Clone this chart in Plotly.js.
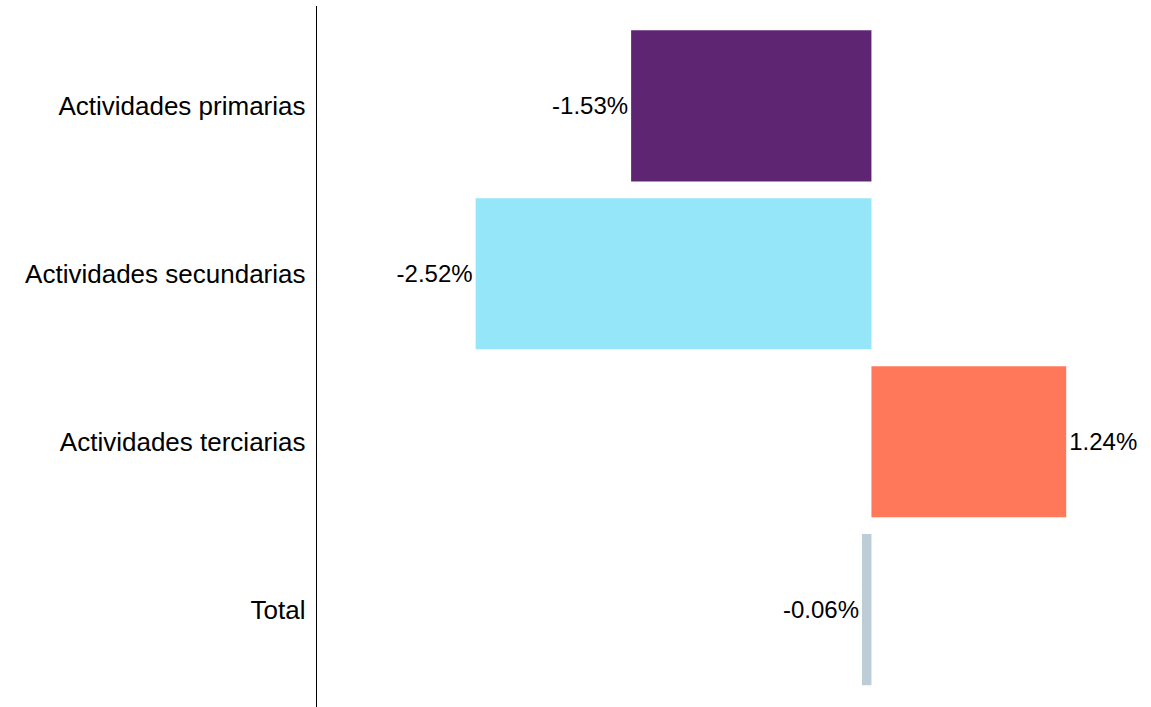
<!DOCTYPE html>
<html>
<head>
<meta charset="utf-8">
<script src="https://cdn.plot.ly/plotly-3.0.1.min.js"></script>
<style>html,body{margin:0;padding:0;background:#fff;}#chart{width:1151px;height:707px;}</style>
</head>
<body>
<div id="chart"></div>
<script>
const categories = ["Actividades primarias", "Actividades secundarias", "Actividades terciarias", "Total"];
const values = [-1.53, -2.52, 1.24, -0.06];
const labels = ["-1.53%", "-2.52%", "1.24%", "-0.06%"];
const colors = ["#5E2572", "#95E6F8", "#FF785A", "#BDCDD6"];

const trace = {
  type: "bar",
  orientation: "h",
  y: categories,
  x: values,
  text: labels,
  textposition: "outside",
  cliponaxis: false,
  textfont: {family: "Liberation Sans, Arial, sans-serif", size: 24, color: "#000"},
  marker: {color: colors},
  hoverinfo: "none"
};

const layout = {
  width: 1151, height: 707,
  margin: {l: 317, r: 0, t: 6, b: 0},
  paper_bgcolor: "#fff", plot_bgcolor: "#fff",
  showlegend: false,
  bargap: 0.1,
  font: {family: "Liberation Sans, Arial, sans-serif", color: "#000"},
  xaxis: {range: [-3.53, 1.78], showgrid: false, zeroline: false, showticklabels: false, showline: false, ticks: ""},
  yaxis: {
    type: "category",
    range: [3.58, -0.595],
    showgrid: false, zeroline: false,
    showline: true, linecolor: "#000", linewidth: 1.3,
    ticks: "", ticklabelstandoff: 5,
    tickfont: {family: "Liberation Sans, Arial, sans-serif", size: 26, color: "#000"}
  }
};

Plotly.newPlot("chart", [trace], layout, {staticPlot: true, displayModeBar: false});
</script>
</body>
</html>
